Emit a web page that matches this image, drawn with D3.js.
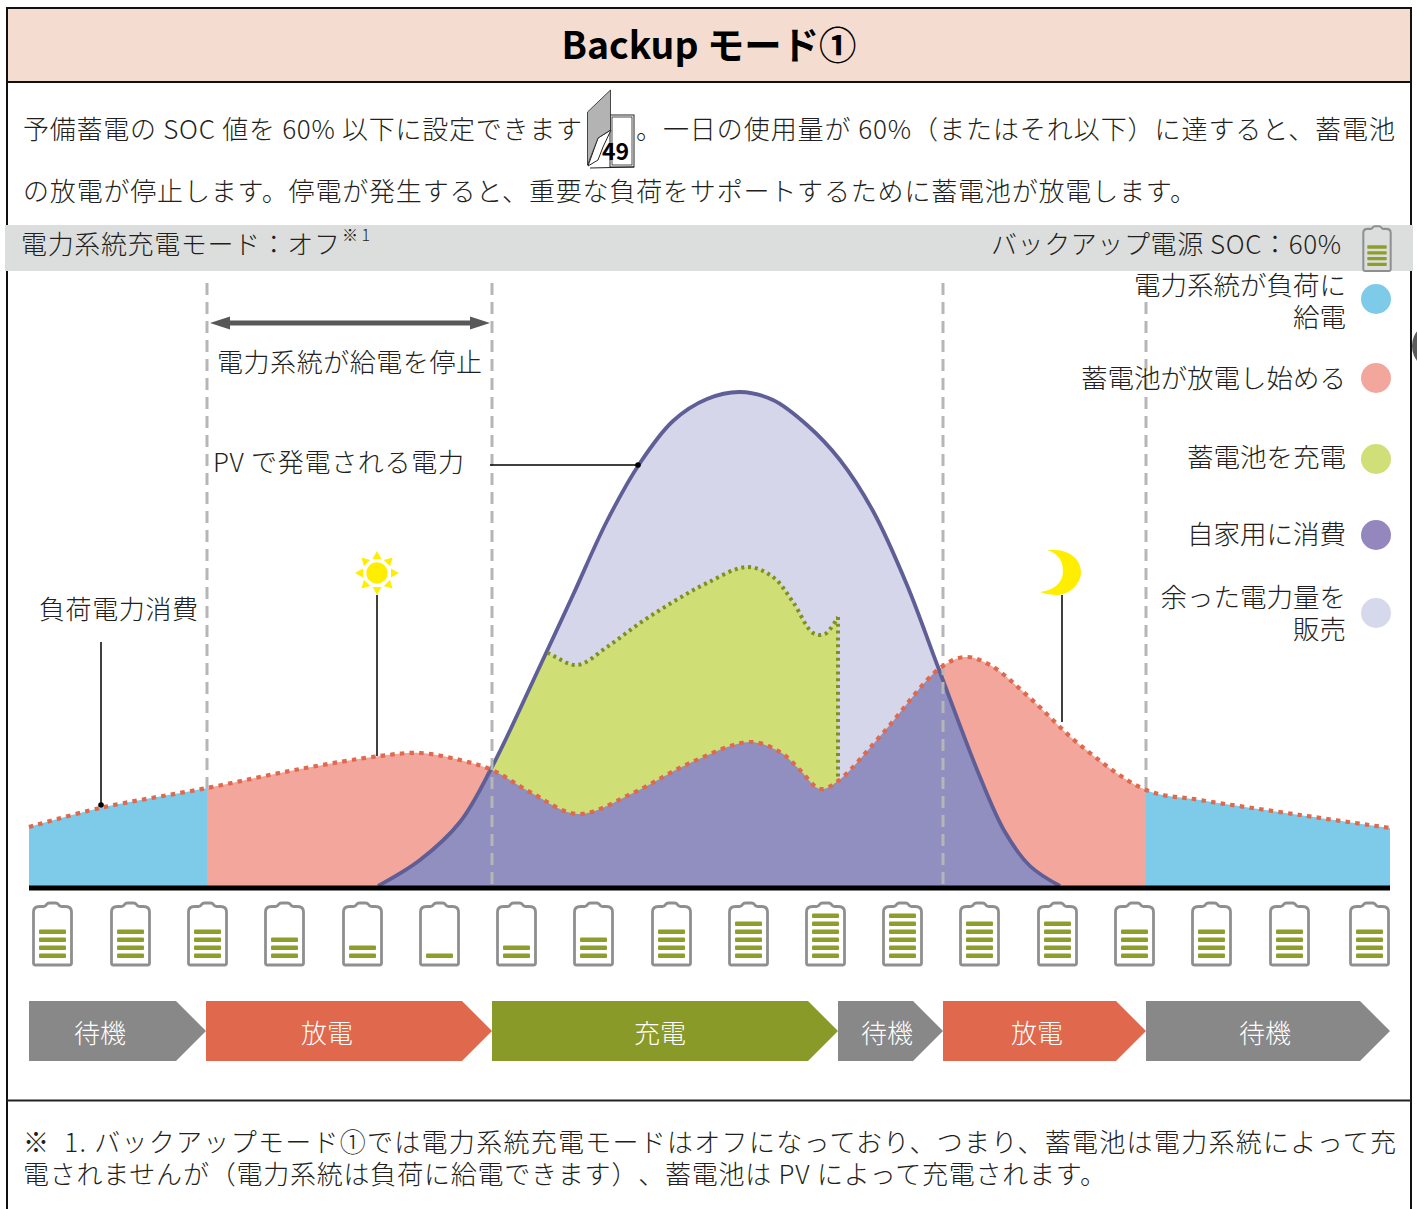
<!DOCTYPE html>
<html><head><meta charset="utf-8">
<script src="https://cdnjs.cloudflare.com/ajax/libs/d3/7.8.5/d3.min.js"></script>
<style>
html,body{margin:0;padding:0;background:#fff;overflow:hidden}
svg{display:block}
text{font-family:"Noto Sans CJK JP","Noto Sans",sans-serif;font-weight:300;fill:#231f20;text-spacing-trim:space-all}
</style></head><body>
<svg id="c" width="1417" height="1209"></svg>
<script>
// ---- data (x = time units across the day, y = power units) ----
const pvPower = [[349,0],[391,26],[431,64],[463,119],[511,220],[544,291],[578,365],[611,423],[644,465],[678,487],[711,494],[744,486],[778,461],[811,426],[844,375],[878,301],[909,219],[951,109],[976,54],[1001,20],[1031,0]];
const loadPower = [[0,59],[71,78],[178,98],[271,117],[351,130],[391,133],[431,126],[463,116],[501,94],[549,72],[604,93],[661,123],[721,144],[751,134],[771,116],[791,97],[809,105],[854,153],[911,218],[936,229],[961,221],[1001,188],[1051,141],[1117,96],[1171,86],[1271,71],[1361,58]];
const chargeTop = [[451,266],[519,233],[548,221],[578,239],[611,263],[644,284],[678,303],[718,319],[744,309],[764,284],[784,253],[796,252],[809,269]];
const chargeEndBase = 105;
const gridBreaks = [178,463,914,1117];
const gridEnds = [98,0,0,96];
const phaseNames = ["待機","放電","充電","待機","放電","待機"];
const phaseEdges = [0,177,463,809,914,1117,1361];
const phaseKinds = ["idle","discharge","charge","idle","discharge","idle"];
const phaseLabelX = [71,298,631,858,1008,1236];
const batteryPos = [23,101,178,255,333,410,487,564,642,719,796,873,950,1028,1105,1182,1260,1340];
const batteryBars = [4,4,4,3,2,1,2,3,4,5,6,6,5,5,4,4,4,4];
const legendNames = [["電力系統が負荷に","給電"],["蓄電池が放電し始める"],["蓄電池を充電"],["自家用に消費"],["余った電力量を","販売"]];
const legendColors = ["#7ecbe9","#f3a79c","#d1df78","#9487bd","#d6d8ec"];
const legendY = [299,378,459,535,613];
const legendTextY = [[283,315],[376],[455],[532],[595,627]];
const titleText = "Backup モード①";
const bodyLines = [
 ["予備蓄電の SOC 値を 60% 以下に設定できます",23,127,559],
 ["。一日の使用量が 60%（またはそれ以下）に達すると、蓄電池",636,127,759],
 ["の放電が停止します。停電が発生すると、重要な負荷をサポートするために蓄電池が放電します。",23,189,1173],
 ["電力系統充電モード：オフ",21,242,319],
 ["バックアップ電源 SOC：60%",991,242,350],
 ["※  1. バックアップモード①では電力系統充電モードはオフになっており、つまり、蓄電池は電力系統によって充",23,1140,1373],
 ["電されませんが（電力系統は負荷に給電できます）、蓄電池は PV によって充電されます。",23,1172,1083],
 ["電力系統が給電を停止",217,360,265],
 ["PV で発電される電力",213,460,251],
 ["負荷電力消費",39,607,159]
];

const C = {lav:"#d5d6ea",salmon:"#f3a79c",blue:"#7ecbe9",purple:"#918fc0",green:"#d0de76",pv:"#5f5e96",load:"#e0684c",chg:"#7f9020",dash:"#b6b6b6",
  idle:"#888888",discharge:"#e0684c",charge:"#8a9a28"};

const svg = d3.select("#c");
const x = d3.scaleLinear().domain([0,1361]).range([29,1390]);
const y = d3.scaleLinear().domain([0,500]).range([886,386]);
const curve = d3.curveCatmullRom.alpha(0.5);
const area = d3.area().x(d=>x(d[0])).y0(y(0)).y1(d=>y(d[1])).curve(curve);
const line = d3.line().x(d=>x(d[0])).y(d=>y(d[1])).curve(curve);

// frame
svg.append("rect").attr("x",7).attr("y",8).attr("width",1404).attr("height",1240).attr("fill","#fff").attr("stroke","#111").attr("stroke-width",2);
svg.append("rect").attr("x",7).attr("y",8).attr("width",1404).attr("height",74).attr("fill","#f4ddd0").attr("stroke","#111").attr("stroke-width",2);
svg.append("line").attr("x1",7).attr("x2",1411).attr("y1",1100.5).attr("y2",1100.5).attr("stroke","#222").attr("stroke-width",2);
svg.append("circle").attr("cx",1436).attr("cy",346).attr("r",24).attr("fill","#5b5b5b");
svg.append("rect").attr("x",5).attr("y",225).attr("width",1408).attr("height",46).attr("fill","#dcdedd");
svg.append("text").text(titleText).attr("x",709).attr("y",42).attr("text-anchor","middle").attr("dominant-baseline","central")
  .attr("textLength",295).attr("lengthAdjust","spacingAndGlyphs")
  .style("font-size","38px").style("font-weight",700).style("fill","#000");

// body text
svg.selectAll("text.b").data(bodyLines).join("text").attr("class","b")
  .text(d=>d[0]).attr("x",d=>d[1]).attr("y",d=>d[2]).attr("dominant-baseline","central")
  .attr("textLength",d=>d[3]).attr("lengthAdjust","spacing").style("white-space","pre")
  .style("font-size","26px");
svg.append("text").text("※ 1").attr("x",342).attr("y",234).attr("dominant-baseline","central").style("font-size","16px");

// chart clips
const defs = svg.append("defs");
defs.append("clipPath").attr("id","pvClip").append("path").attr("d",area(pvPower));
const rectClip=(id,a,b)=>defs.append("clipPath").attr("id",id).append("rect").attr("x",x(a)).attr("width",x(b)-x(a)).attr("y",0).attr("height",1209);
rectClip("cBlueL",phaseEdges[0],gridBreaks[0]);
rectClip("cSalmon",gridBreaks[0],gridBreaks[3]);
rectClip("cBlueR",gridBreaks[3],phaseEdges[6]);
rectClip("cGreen",gridBreaks[1],chargeTop[chargeTop.length-1][0]);

const g = svg.append("g");
g.append("path").attr("d",area(pvPower)).attr("fill",C.lav);
g.append("path").attr("d",area(loadPower)).attr("fill",C.blue).attr("clip-path","url(#cBlueL)");
g.append("path").attr("d",area(loadPower)).attr("fill",C.salmon).attr("clip-path","url(#cSalmon)");
g.append("path").attr("d",area(loadPower)).attr("fill",C.blue).attr("clip-path","url(#cBlueR)");
g.append("g").attr("clip-path","url(#pvClip)").append("path").attr("d",area(chargeTop)).attr("fill",C.green).attr("clip-path","url(#cGreen)");
g.append("g").attr("clip-path","url(#pvClip)").append("path").attr("d",area(loadPower)).attr("fill",C.purple);
g.append("path").attr("d",line(pvPower)).attr("fill","none").attr("stroke",C.pv).attr("stroke-width",3.8);

// dashed guides
g.selectAll("line.g").data(gridBreaks).join("line").attr("class","g")
  .attr("x1",d=>x(d)).attr("x2",d=>x(d)).attr("y1",283).attr("y2",(d,i)=>y(gridEnds[i]))
  .attr("stroke",C.dash).attr("stroke-width",3).attr("stroke-dasharray","12 7");

// dotted boundaries
g.append("g").attr("clip-path","url(#pvClip)").append("path").attr("d",line(chargeTop)).attr("fill","none")
  .attr("stroke",C.chg).attr("stroke-width",4).attr("stroke-dasharray","3 3.8");
const last = chargeTop[chargeTop.length-1];
g.append("line").attr("x1",x(last[0])).attr("x2",x(last[0])).attr("y1",y(last[1])).attr("y2",y(chargeEndBase))
  .attr("stroke",C.chg).attr("stroke-width",4).attr("stroke-dasharray","3 3.8");
g.append("path").attr("d",line(loadPower)).attr("fill","none").attr("stroke",C.load).attr("stroke-width",4.2).attr("stroke-dasharray","4.5 5.2");

// baseline
svg.append("line").attr("x1",x(0)).attr("x2",x(1361)).attr("y1",888).attr("y2",888).attr("stroke","#000").attr("stroke-width",5);

// leaders
const leaders=[[101,642,101,805],[377,595,377,756],[1062,595,1062,722],[490,465,638,465]];
svg.selectAll("line.l").data(leaders).join("line").attr("class","l")
 .attr("x1",d=>d[0]).attr("y1",d=>d[1]).attr("x2",d=>d[2]).attr("y2",d=>d[3]).attr("stroke","#000").attr("stroke-width",1.5);
svg.selectAll("circle.l").data([[101,805],[638,465]]).join("circle").attr("class","l").attr("cx",d=>d[0]).attr("cy",d=>d[1]).attr("r",2.8).attr("fill","#000");

// double arrow
svg.append("path").attr("d","M210,323 L230,316.5 V320.5 H470 V316.5 L490,323 L470,329.5 V325.5 H230 V329.5 Z").attr("fill","#58585a");

// sun
const sun=svg.append("g").attr("transform","translate(377,573)");
sun.append("circle").attr("r",10.7).attr("fill","#ffee00");
d3.range(8).forEach(i=>sun.append("path").attr("d","M-4.5,-14 L4.5,-14 L0,-22 Z").attr("transform",`rotate(${i*45})`).attr("fill","#ffee00"));
// moon
svg.append("path").attr("d","M1047,550 C1070,548 1081,560 1081,572 C1081,585 1068,596 1055,595 Q1047,595 1040,592 C1055,590 1063,582 1063,571 C1063,560 1057,553 1047,550 Z").attr("fill","#ffee00");

// batteries
const batPath="M-19,963 V912 Q-19,906.5 -13,906.5 H-9 Q-7,906.5 -6,904.5 Q-5,903 -3,903 H3 Q5,903 6,904.5 Q7,906.5 9,906.5 H13 Q19,906.5 19,912 V963 Q19,965 17,965 H-17 Q-19,965 -19,963 Z";
function battery(parent,n){
  parent.append("path").attr("d",batPath).attr("fill","#fff").attr("fill-opacity",parent.classed("top")?0:1).attr("stroke","#8f8f8f").attr("stroke-width",2.8);
  parent.selectAll("rect").data(d3.range(n)).join("rect").attr("x",-13.5).attr("width",27).attr("height",4.6)
    .attr("y",i=>955.7-2.3-i*8).attr("rx",1).attr("fill","#8f9e2a");
}
batteryPos.forEach((b,i)=>battery(svg.append("g").attr("transform",`translate(${x(b)+0.5},0)`),batteryBars[i]));
battery(svg.append("g").classed("top",true).attr("transform",`translate(1377,${271-965*0.72}) scale(0.72)`),4);

// phase arrows
const head=30;
phaseNames.forEach((n,i)=>{
  const a=x(phaseEdges[i]), b=x(phaseEdges[i+1]);
  svg.append("path").attr("d",`M${a},1001 H${b-head} L${b},1031 L${b-head},1061 H${a} Z`).attr("fill",C[phaseKinds[i]]);
  svg.append("text").text(n).attr("x",x(phaseLabelX[i])).attr("y",1031).attr("text-anchor","middle").attr("dominant-baseline","central")
    .style("font-size","26px").style("fill","#fff");
});

// legend
legendNames.forEach((ls,i)=>{
  svg.append("circle").attr("cx",1376).attr("cy",legendY[i]).attr("r",15).attr("fill",legendColors[i]);
  ls.forEach((t,j)=>svg.append("text").text(t).attr("x",1346).attr("y",legendTextY[i][j]).attr("text-anchor","end").attr("dominant-baseline","central").style("font-size","26.5px"));
});

// page reference icon
const bk=svg.append("g");
bk.append("rect").attr("x",610).attr("y",115).attr("width",24).attr("height",52).attr("fill","#fff").attr("stroke","#222").attr("stroke-width",1);
bk.append("rect").attr("x",612).attr("y",117).attr("width",20).attr("height",48).attr("fill","#fff").attr("stroke","#222").attr("stroke-width",0.8);
bk.append("path").attr("d","M588,166 L598,138 L611,130 L603,147 L598,160 Z").attr("fill","#fff").attr("stroke","#222").attr("stroke-width",1);
bk.append("path").attr("d","M590,168 L634,167").attr("stroke","#222").attr("stroke-width",1.2);
bk.append("path").attr("d","M587.5,112 L610.5,90 V130 L598,138 L587.5,165 Z").attr("fill","#b3b3b3").attr("stroke","#222").attr("stroke-width",0.8);
bk.append("text").text("49").attr("x",615.5).attr("y",150).attr("text-anchor","middle").attr("dominant-baseline","central").style("font-size","23px").style("font-weight",700).style("fill","#000");
</script>
</body></html>
